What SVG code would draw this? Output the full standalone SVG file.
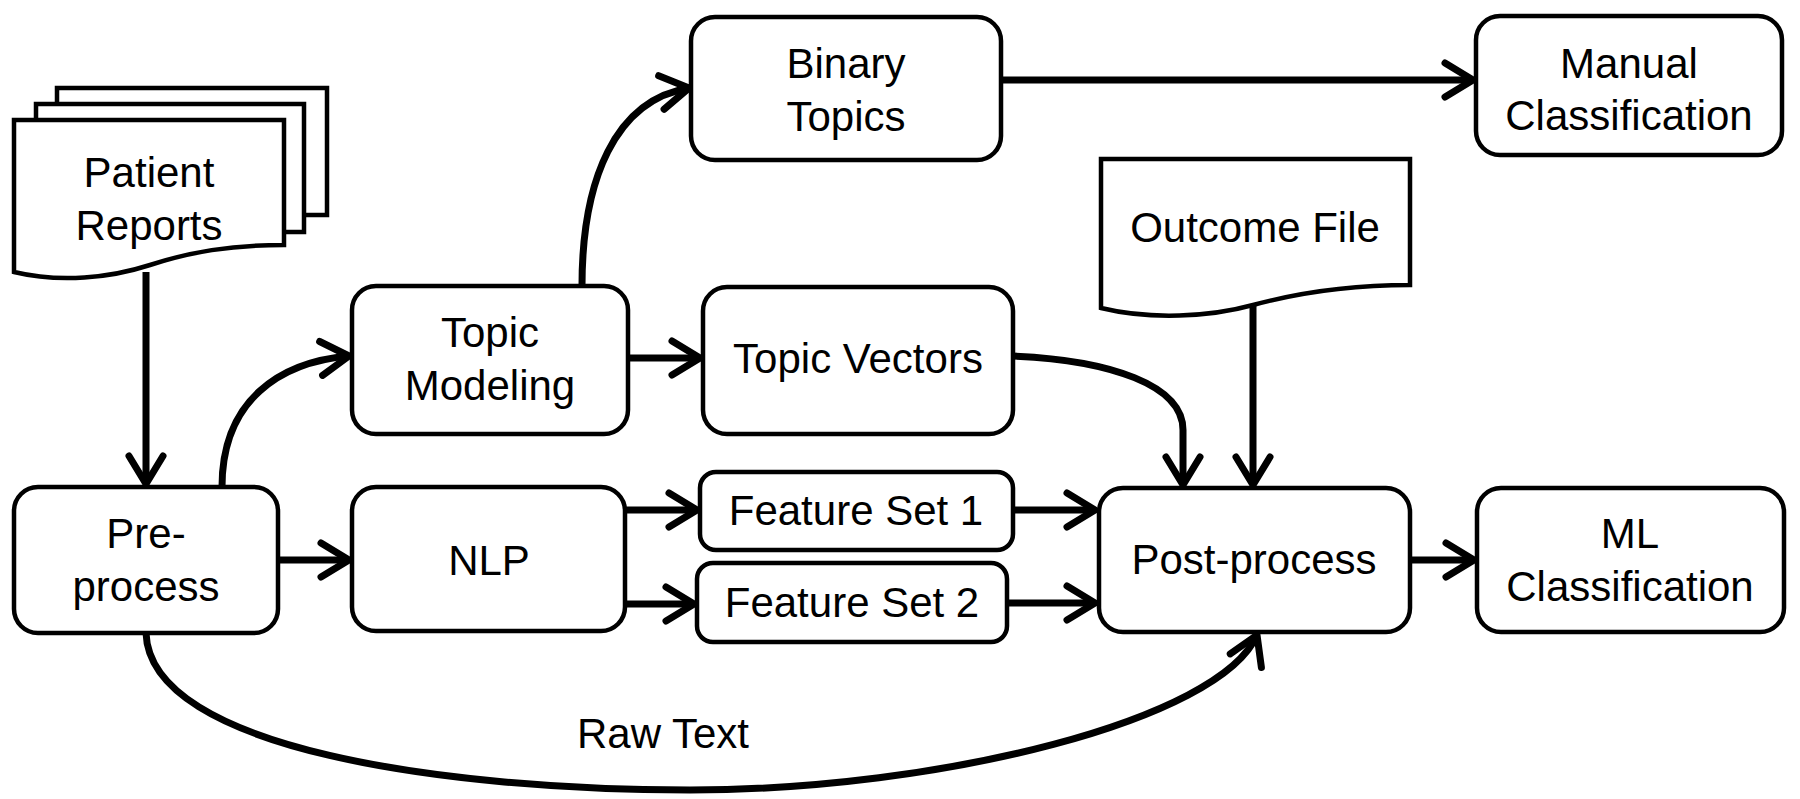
<svg xmlns="http://www.w3.org/2000/svg" width="1800" height="799" viewBox="0 0 1800 799">
<style>
.box{fill:#fff;stroke:#000;stroke-width:4.5}
.t{font-family:"Liberation Sans",Arial,sans-serif;font-size:42px;fill:#000;text-anchor:middle}
.c{fill:none;stroke:#000;stroke-width:7}
</style>
<defs>
<marker id="ah" markerUnits="userSpaceOnUse" viewBox="-36 -22 40 44" refX="0" refY="0" markerWidth="40" markerHeight="44" orient="auto">
<path d="M-28,-17 L0,0 L-28,17" fill="none" stroke="#000" stroke-width="7" stroke-linecap="round" stroke-linejoin="round"/>
</marker>
</defs>
<rect width="1800" height="799" fill="#fff"/>
<g id="connectors">
<path class="c" d="M146,272 V484" marker-end="url(#ah)"/>
<path class="c" d="M222,487 C222,400 280,362 349,356" marker-end="url(#ah)"/>
<path class="c" d="M278,560 H349" marker-end="url(#ah)"/>
<path class="c" d="M628,358 H700" marker-end="url(#ah)"/>
<path class="c" d="M582,286 C582,180 615,100 689,88" marker-end="url(#ah)"/>
<path class="c" d="M1001,80 H1473" marker-end="url(#ah)"/>
<path class="c" d="M625,510 H697" marker-end="url(#ah)"/>
<path class="c" d="M625,604 H694" marker-end="url(#ah)"/>
<path class="c" d="M1013,510 H1095" marker-end="url(#ah)"/>
<path class="c" d="M1007,603 H1095" marker-end="url(#ah)"/>
<path class="c" d="M1013,356 C1110,360 1183,385 1183,430 V485" marker-end="url(#ah)"/>
<path class="c" d="M1253,305 V485" marker-end="url(#ah)"/>
<path class="c" d="M1410,560 H1474" marker-end="url(#ah)"/>
<path class="c" d="M146,633 C150,750 450,790 690,790 C940,790 1220,720 1257,635" marker-end="url(#ah)"/>
</g>
<g id="patient-reports">
<rect class="box" x="57" y="88" width="270" height="127"/>
<rect class="box" x="36" y="104" width="268" height="128"/>
<path class="box" d="M14,120 H284 V245 C230,245 190,252 150,265 C110,278 60,283 14,272 Z"/>
<text class="t" x="149" y="187">Patient</text>
<text class="t" x="149" y="240">Reports</text>
</g>
<g id="pre-process">
<rect class="box" x="14" y="487" width="264" height="146" rx="24"/>
<text class="t" x="146" y="548">Pre-</text>
<text class="t" x="146" y="601">process</text>
</g>
<g id="topic-modeling">
<rect class="box" x="352" y="286" width="276" height="148" rx="24"/>
<text class="t" x="490" y="347">Topic</text>
<text class="t" x="490" y="400">Modeling</text>
</g>
<g id="nlp">
<rect class="box" x="352" y="487" width="273" height="144" rx="24"/>
<text class="t" x="489" y="575">NLP</text>
</g>
<g id="binary-topics">
<rect class="box" x="691" y="17" width="310" height="143" rx="24"/>
<text class="t" x="846" y="78">Binary</text>
<text class="t" x="846" y="131">Topics</text>
</g>
<g id="topic-vectors">
<rect class="box" x="703" y="287" width="310" height="147" rx="24"/>
<text class="t" x="858" y="373">Topic Vectors</text>
</g>
<g id="feature-set-1">
<rect class="box" x="700" y="472" width="313" height="78" rx="16"/>
<text class="t" x="856" y="525">Feature Set 1</text>
</g>
<g id="feature-set-2">
<rect class="box" x="697" y="563" width="310" height="79" rx="16"/>
<text class="t" x="852" y="617">Feature Set 2</text>
</g>
<g id="outcome-file">
<path class="box" d="M1101,159 H1410 V285 C1340,285 1290,295 1253,305 C1210,317 1150,320 1101,308 Z"/>
<text class="t" x="1255" y="242">Outcome File</text>
</g>
<g id="post-process">
<rect class="box" x="1099" y="488" width="311" height="144" rx="24"/>
<text class="t" x="1254" y="574">Post-process</text>
</g>
<g id="manual-classification">
<rect class="box" x="1476" y="16" width="306" height="139" rx="24"/>
<text class="t" x="1629" y="78">Manual</text>
<text class="t" x="1629" y="130">Classification</text>
</g>
<g id="ml-classification">
<rect class="box" x="1477" y="488" width="307" height="144" rx="24"/>
<text class="t" x="1630" y="548">ML</text>
<text class="t" x="1630" y="601">Classification</text>
</g>
<text class="t" x="663" y="748">Raw Text</text>
</svg>
